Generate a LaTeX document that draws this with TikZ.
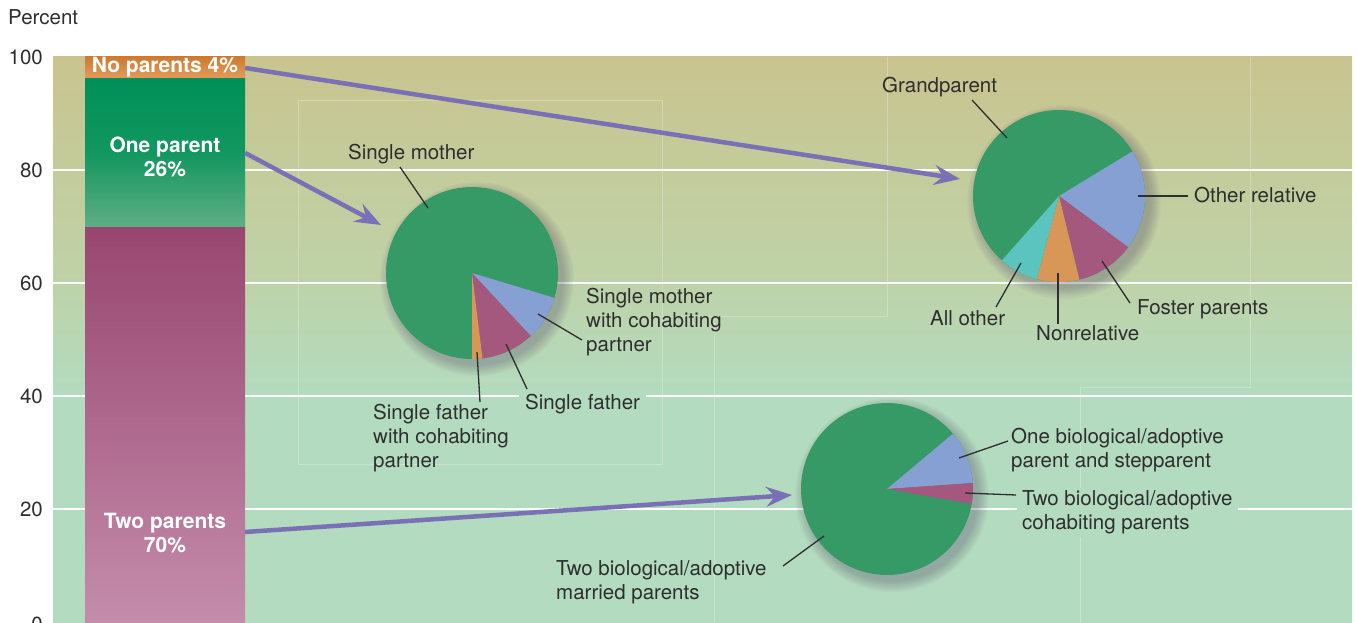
\documentclass[tikz,border=0pt]{standalone}
\usepackage{fontspec}
\setmainfont{TeX Gyre Heros}
\usetikzlibrary{arrows.meta}

\definecolor{bgT}{HTML}{C9C48F}
\definecolor{bgM}{HTML}{BFD2A7}
\definecolor{bgB}{HTML}{B3DBBF}
\definecolor{pgreen}{HTML}{359A65}
\definecolor{pblue}{HTML}{87A0D3}
\definecolor{pmag}{HTML}{A5587D}
\definecolor{porange}{HTML}{D99757}
\definecolor{pcyan}{HTML}{5CC4BF}
\definecolor{arrowc}{HTML}{7A70B5}
\definecolor{txt}{HTML}{2E2E2E}
\definecolor{shadowc}{HTML}{5A5070}
\definecolor{npTop}{HTML}{CF7A30}
\definecolor{npBot}{HTML}{E29C5E}
\definecolor{opTop}{HTML}{009057}
\definecolor{opMid}{HTML}{129760}
\definecolor{opBot}{HTML}{5FAE85}
\definecolor{tpTop}{HTML}{984670}
\definecolor{tpBot}{HTML}{C48CAB}

\pgfdeclareverticalshading{plotbg}{100bp}{color(0bp)=(bgB); color(45bp)=(bgB); color(56bp)=(bgM); color(75bp)=(bgT); color(100bp)=(bgT)}

\begin{document}
\begin{tikzpicture}[x=1pt,y=-1pt,
  lbl/.style={font=\fontsize{20.5}{24}\selectfont, text=txt, inner sep=0pt},
  barlbl/.style={font=\fontsize{21}{24}\selectfont\bfseries, text=white, inner sep=0pt, align=center},
  tick/.style={font=\fontsize{20.5}{24}\selectfont, text=txt, inner sep=0pt, anchor=east},
  barseg/.style={rectangle, inner sep=0pt, minimum width=160pt},
  grid/.style={draw=white, line width=2.6pt},
  faint/.style={draw=white, opacity=0.25, line width=0.8pt},
  leader/.style={draw=txt, line width=1.3pt},
  pointer/.style={draw=arrowc, line width=4.5pt, -{Stealth[length=26pt,width=20pt,inset=9pt]}}]

\useasboundingbox (0,0) rectangle (1357,623);

% plot background and grid
\shade[shading=plotbg] (53,57) rectangle (1352,623);
\foreach \gy in {170,283,396,509} \draw[grid] (53,\gy) -- (1352,\gy);

% faint panel frames
\draw[faint] (298,100) rectangle (662,464);
\draw[faint] (662,316) -- (887,316) -- (887,57);
\draw[faint] (714,316) -- (714,623);
\draw[faint] (1250,57) -- (1250,387) -- (1080,387) -- (1080,623);

% axis labels
\node[lbl, anchor=base west] (ylabel) at (8,25) {Percent};
\node[tick] (t100) at (43,57) {100};
\node[tick] (t80) at (43,170) {80};
\node[tick] (t60) at (43,283) {60};
\node[tick] (t40) at (43,396) {40};
\node[tick] (t20) at (43,509) {20};
\node[tick] (t0) at (43,624) {0};

% stacked bar
\node[barseg, minimum height=22pt, top color=npTop, bottom color=npBot] (np) at (165,68) {};
\node[barseg, minimum height=148pt, top color=opTop, bottom color=opBot, middle color=opMid] (op) at (165,153) {};
\node[barseg, minimum height=396pt, top color=tpTop, bottom color=tpBot] (tp) at (165,425) {};
\node[barlbl] (npl) at (165,67) {No parents 4\%};
\node[barlbl] (opl) at (165,157) {One parent\\26\%};
\node[barlbl] (tpl) at (165,533) {Two parents\\70\%};
\coordinate (tpout) at (245,532);

% pie 1: one parent
\coordinate (p1) at (472,273);
\foreach \k in {0,...,11} \fill[shadowc, opacity=0.03] ([shift={(5,6)}]p1) circle ({86+11-\k});
\fill[pgreen] (p1) circle (86);
\fill[pblue] (p1) -- ++(16.8:86) arc[start angle=16.8, end angle=47, radius=86] -- cycle;
\fill[pmag] (p1) -- ++(47:86) arc[start angle=47, end angle=83, radius=86] -- cycle;
\fill[porange] (p1) -- ++(83:86) arc[start angle=83, end angle=90, radius=86] -- cycle;

% pie 2: no parents
\coordinate (p2) at (1059,196);
\foreach \k in {0,...,11} \fill[shadowc, opacity=0.03] ([shift={(5,6)}]p2) circle ({86+11-\k});
\fill[pgreen] (p2) circle (86);
\fill[pblue] (p2) -- ++(-31.3:86) arc[start angle=-31.3, end angle=36.5, radius=86] -- cycle;
\fill[pmag] (p2) -- ++(36.5:86) arc[start angle=36.5, end angle=76.3, radius=86] -- cycle;
\fill[porange] (p2) -- ++(76.3:86) arc[start angle=76.3, end angle=105, radius=86] -- cycle;
\fill[pcyan] (p2) -- ++(105:86) arc[start angle=105, end angle=131.6, radius=86] -- cycle;

% pie 3: two parents
\coordinate (p3) at (887,489);
\foreach \k in {0,...,11} \fill[shadowc, opacity=0.03] ([shift={(5,6)}]p3) circle ({86+11-\k});
\fill[pgreen] (p3) circle (86);
\fill[pblue] (p3) -- ++(-40:86) arc[start angle=-40, end angle=-4, radius=86] -- cycle;
\fill[pmag] (p3) -- ++(-4:86) arc[start angle=-4, end angle=10, radius=86] -- cycle;

% arrows from the bar to the pies
\coordinate (tip1) at (960,179);
\coordinate (tip2) at (381,225);
\coordinate (tip3) at (792,495);
\draw[pointer] (np.east) -- (tip1);
\draw[pointer] (op.east) -- (tip2);
\draw[pointer] (tpout) -- (tip3);

% pie 1 labels
\node[lbl, anchor=base west] (sm) at (348,160) {Single mother};
\node[lbl, anchor=north west, align=left] (smc) at (586,288.3) {Single mother\\with cohabiting\\partner};
\node[lbl, anchor=base west, fill=bgB, inner xsep=6pt, inner ysep=3pt] (sf) at (519,409) {Single father};
\node[lbl, anchor=north west, align=left] (sfc) at (373,404.3) {Single father\\with cohabiting\\partner};
\coordinate (sm-a) at (400,167); \coordinate (sm-b) at (428,208);
\coordinate (smc-a) at (582,340); \coordinate (smc-b) at (538,314);
\coordinate (sf-a) at (527,389); \coordinate (sf-b) at (506,344);
\coordinate (sfc-a) at (480,402); \coordinate (sfc-b) at (477,352);
\draw[leader] (sm-a) -- (sm-b);
\draw[leader] (smc-a) -- (smc-b);
\draw[leader] (sf-a) -- (sf-b);
\draw[leader] (sfc-a) -- (sfc-b);

% pie 2 labels
\node[lbl, anchor=base west] (gp) at (882,93) {Grandparent};
\node[lbl, anchor=base west] (orl) at (1194,202) {Other relative};
\node[lbl, anchor=base west] (fp) at (1137,314) {Foster parents};
\node[lbl, anchor=base west] (nr) at (1036,340) {Nonrelative};
\node[lbl, anchor=base west] (ao) at (930,325) {All other};
\coordinate (gp-a) at (972,100); \coordinate (gp-b) at (1007,138);
\coordinate (orl-a) at (1188,196); \coordinate (orl-b) at (1138,196);
\coordinate (fp-a) at (1130,303); \coordinate (fp-b) at (1102,261);
\coordinate (nr-a) at (1058,324); \coordinate (nr-b) at (1058,273);
\coordinate (ao-a) at (996,307); \coordinate (ao-b) at (1021,263);
\draw[leader] (gp-a) -- (gp-b);
\draw[leader] (orl-a) -- (orl-b);
\draw[leader] (fp-a) -- (fp-b);
\draw[leader] (nr-a) -- (nr-b);
\draw[leader] (ao-a) -- (ao-b);

% pie 3 labels
\node[lbl, anchor=north west, align=left] (ob) at (1011,428.3) {One biological/adoptive\\parent and stepparent};
\node[lbl, anchor=north west, align=left, fill=bgB, inner xsep=5pt, inner ysep=3pt] (tc) at (1017,487.3) {Two biological/adoptive\\cohabiting parents};
\node[lbl, anchor=north west, align=left] (tm) at (556,560.3) {Two biological/adoptive\\married parents};
\coordinate (ob-a) at (1008,441); \coordinate (ob-b) at (959,458);
\coordinate (tc-a) at (1016,495); \coordinate (tc-b) at (965,493);
\coordinate (tm-a) at (783,566); \coordinate (tm-b) at (824,536);
\draw[leader] (ob-a) -- (ob-b);
\draw[leader] (tc-a) -- (tc-b);
\draw[leader] (tm-a) -- (tm-b);
\end{tikzpicture}
\end{document}
